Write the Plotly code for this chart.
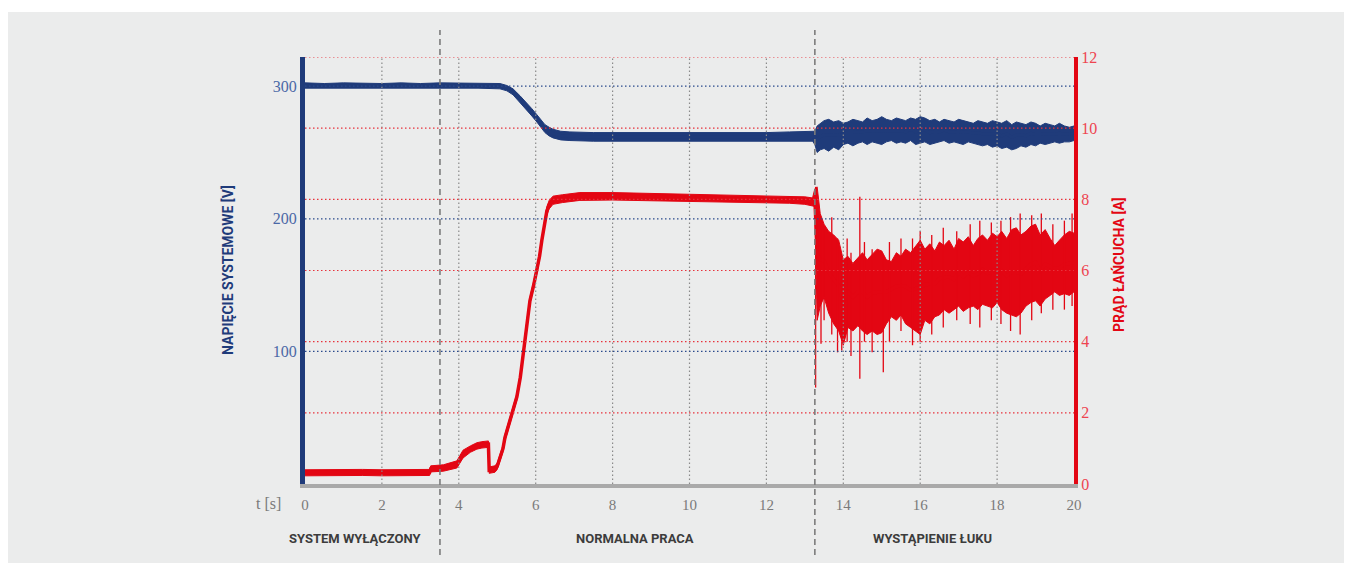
import plotly.graph_objects as go

# ---------------- data ----------------
time_ticks = [0, 2, 4, 6, 8, 10, 12, 14, 16, 18, 20]
voltage_ticks = [100, 200, 300]
current_ticks = [0, 2, 4, 6, 8, 10, 12]
phase_boundaries = [3.51, 13.26]
phase_labels = ["SYSTEM WYŁĄCZONY", "NORMALNA PRACA", "WYSTĄPIENIE ŁUKU"]
phase_label_t = [1.30, 8.58, 16.33]

# system voltage [V] before the arc: time, lower / upper edge of the noisy trace
volt_t = [0, 0.5, 1, 1.5, 2, 2.5, 3, 3.5, 4, 4.5, 5.07, 5.25, 5.41, 5.6, 5.77, 5.9,
          6.03, 6.15, 6.24, 6.35, 6.45, 6.65, 6.89, 7.5, 8.19, 9, 10, 11, 12, 12.6, 13.2]
volt_lo = [298.5, 298.5, 298.5, 299, 298.5, 298.5, 299, 299, 298.5, 298.5, 298, 296.5, 293.5,
           287.5, 281.5, 277.5, 273, 268.5, 265, 262.5, 261, 259.5, 259, 258.5, 258.5, 258,
           258.5, 258, 258.5, 258.5, 258.5]
volt_hi = [302.5, 302, 302.5, 302, 302, 302.5, 302, 302.5, 302.5, 302, 302, 300.5, 298,
           292.5, 287.5, 283, 278.5, 274.5, 271, 269, 267.5, 266, 265.5, 265, 265, 264.5,
           265, 264.5, 265, 265.5, 265.5]

# arc period sampling times [s]
arc_t = [13.26, 13.32, 13.40, 13.50, 13.62, 13.75, 13.88,
         14.00, 14.12, 14.25, 14.38, 14.50, 14.62, 14.75, 14.88,
         15.00, 15.12, 15.25, 15.38, 15.50, 15.62, 15.75, 15.88,
         16.00, 16.12, 16.25, 16.38, 16.50, 16.62, 16.75, 16.88,
         17.00, 17.12, 17.25, 17.38, 17.50, 17.62, 17.75, 17.88,
         18.00, 18.12, 18.25, 18.38, 18.50, 18.62, 18.75, 18.88,
         19.00, 19.12, 19.25, 19.38, 19.50, 19.62, 19.75, 19.88,
         20.00]
volt_arc_hi = [266, 270, 272, 274, 275, 273, 274,
               272, 273, 275, 274, 273, 276, 274, 275,
               277, 275, 274, 276, 275, 274, 276, 275,
               277, 276, 274, 275, 273, 275, 274, 273,
               275, 274, 273, 272, 274, 273, 272, 274,
               273, 272, 274, 271, 273, 272, 271, 273,
               272, 270, 272, 271, 270, 272, 270, 269,
               270]
volt_arc_lo = [256, 250, 252, 253, 251, 254, 252,
               256, 257, 255, 257, 258, 256, 258, 257,
               256, 258, 259, 257, 258, 257, 259, 256,
               257, 258, 256, 257, 258, 259, 257, 258,
               257, 256, 258, 257, 256, 255, 256, 254,
               255, 253, 254, 252, 253, 255, 254, 256,
               255, 257, 256, 257, 258, 257, 258, 258,
               259]

# string current [A] before the arc
cur_t = [0, 0.5, 1, 1.5, 2, 2.5, 3, 3.24,
         3.27, 3.6, 3.95, 4.11, 4.3, 4.47, 4.6, 4.73, 4.77,
         4.79, 4.94, 5.0, 5.07, 5.15, 5.2, 5.28, 5.33, 5.4, 5.46, 5.51, 5.6,
         5.68, 5.77, 5.85, 5.95, 6.03, 6.1, 6.16, 6.22, 6.29, 6.35, 6.45,
         6.7, 7.15, 8, 9, 10, 11, 12, 12.6, 13, 13.2]
cur_lo = [0.23, 0.24, 0.23, 0.24, 0.23, 0.24, 0.23, 0.24,
          0.34, 0.36, 0.45, 0.73, 0.89, 0.98, 1.01, 1.03, 1.03,
          0.3, 0.33, 0.41, 0.65, 0.91, 1.21, 1.51, 1.68, 1.91, 2.21, 2.36, 2.91,
          3.66, 4.41, 5.06, 5.51, 5.91, 6.31, 6.76, 7.21, 7.56, 7.73, 7.86,
          7.91, 7.97, 7.98, 7.96, 7.94, 7.92, 7.9, 7.89, 7.86, 7.81]
cur_hi = [0.4, 0.41, 0.4, 0.41, 0.4, 0.41, 0.4, 0.41,
          0.51, 0.54, 0.65, 0.95, 1.07, 1.16, 1.19, 1.21, 1.21,
          0.48, 0.51, 0.59, 0.85, 1.09, 1.39, 1.69, 1.86, 2.09, 2.39, 2.54, 3.09,
          3.84, 4.59, 5.24, 5.69, 6.09, 6.49, 6.94, 7.39, 7.79, 7.97, 8.09,
          8.13, 8.19, 8.19, 8.17, 8.15, 8.13, 8.11, 8.09, 8.07, 8.04]

# string current [A] during the arc (core of the noisy band)
cur_arc_hi = [8.3, 8.35, 7.6, 7.3, 7.1, 7.0, 6.85,
              6.3, 6.4, 6.2, 6.35, 6.5, 6.3, 6.45, 6.6,
              6.55, 6.3, 6.25, 6.5, 6.4, 6.6, 6.5, 6.7,
              6.85, 6.6, 6.75, 6.55, 6.8, 6.7, 6.85, 6.6,
              6.9, 6.8, 6.95, 6.7, 6.9, 7.0, 6.85, 7.05,
              6.95, 7.1, 6.9, 7.15, 7.2, 7.0, 7.1, 7.25,
              7.3, 7.0, 7.15, 6.9, 6.7, 6.85, 7.0, 7.1,
              7.05]
cur_arc_lo = [7.8, 4.6, 5.0, 5.25, 4.8, 4.5, 4.3,
              3.9, 4.4, 4.3, 4.45, 4.3, 4.2, 4.3, 4.2,
              4.25, 4.5, 4.7, 4.6, 4.75, 4.5, 4.4, 4.3,
              4.2, 4.6, 4.5, 4.7, 4.75, 4.9, 4.8, 4.9,
              5.0, 4.85, 4.95, 5.0, 4.9, 5.05, 5.0, 4.95,
              5.1, 4.9, 4.8, 4.75, 4.7, 4.8, 5.0, 5.1,
              5.15, 5.0, 5.2, 5.3, 5.4, 5.3, 5.35, 5.3,
              5.4]

# isolated current spikes during the arc (time, low end, high end) [A]
spike_t = [13.28, 13.42, 13.5, 13.7, 13.85, 13.96, 14.1, 14.2, 14.43, 14.55, 14.75,
           15.04, 15.2, 15.5, 15.8, 16.0, 16.3, 16.6, 16.95, 17.3, 17.55, 17.85,
           18.1, 18.35, 18.6, 18.9, 19.15, 19.45, 19.75, 19.95]
spike_lo = [2.71, 3.94, 4.6, 4.2, 3.7, 3.75, 4.0, 3.6, 2.96, 4.0, 3.7,
            3.14, 4.0, 4.3, 3.9, 4.0, 4.2, 4.4, 4.6, 4.5, 4.4, 4.6,
            4.5, 4.3, 4.2, 4.6, 4.8, 4.9, 4.9, 5.0]
spike_hi = [8.35, 7.4, 7.2, 7.5, 6.9, 6.3, 6.9, 6.5, 8.07, 6.8, 6.6,
            6.3, 6.8, 6.9, 6.9, 7.1, 7.0, 7.2, 7.1, 7.3, 7.4, 7.35,
            7.4, 7.5, 7.6, 7.55, 7.6, 7.3, 7.4, 7.6]

# ---------------- style ----------------
BLUE = "#1f3b7a"
RED = "#e30613"
BLUE_TXT = "#4a68a6"
RED_TXT = "#ee4450"
GREY_TXT = "#7a7a7a"
BG = "#ebecec"
SERIF = "Liberation Serif, DejaVu Serif, serif"
SANS = "Roboto, Open Sans, sans-serif"

# window pixel positions of the plot area (page has an 8px body margin)
OFF = 8
W, H = 1352 - OFF, 563 - OFF
L, R, T, B = 305, 1074, 57, 484


def px_x(p):
    return (p - L) / (R - L)


def px_y(p):
    return (B - p) / (B - T)


fig = go.Figure()


def band(t, lo, hi, color, yaxis, mid_width):
    mid = [(a + b) / 2 for a, b in zip(lo, hi)]
    fig.add_trace(go.Scatter(x=t, y=lo, mode="lines", yaxis=yaxis,
                             line=dict(color=color, width=1.0), showlegend=False,
                             hoverinfo="skip"))
    fig.add_trace(go.Scatter(x=t, y=hi, mode="lines", yaxis=yaxis, fill="tonexty",
                             fillcolor=color, line=dict(color=color, width=1.0),
                             showlegend=False, hoverinfo="skip"))
    fig.add_trace(go.Scatter(x=t, y=mid, mode="lines", yaxis=yaxis,
                             line=dict(color=color, width=mid_width), showlegend=False,
                             hoverinfo="skip"))


band(volt_t + arc_t, volt_lo + volt_arc_lo, volt_hi + volt_arc_hi, BLUE, "y", 3)
band(cur_t + arc_t, cur_lo + cur_arc_lo, cur_hi + cur_arc_hi, RED, "y2", 3.5)

sx, sy = [], []
for t, lo, hi in zip(spike_t, spike_lo, spike_hi):
    sx += [t, t, None]
    sy += [lo, hi, None]
fig.add_trace(go.Scatter(x=sx, y=sy, mode="lines", yaxis="y2",
                         line=dict(color=RED, width=1.3), showlegend=False,
                         hoverinfo="skip"))

shapes = []
# page background
shapes.append(dict(type="rect", xref="paper", yref="paper", layer="below",
                   x0=px_x(0), x1=px_x(1347), y0=px_y(570), y1=px_y(12),
                   fillcolor=BG, line=dict(width=0)))
# vertical grid
for t in time_ticks[1:-1]:
    shapes.append(dict(type="line", xref="x", yref="paper", layer="above",
                       x0=t, x1=t, y0=0, y1=1,
                       line=dict(color="#8a8a8a", width=1.2, dash="1.5px,2.5px")))
# current grid (red)
for v in current_ticks[1:]:
    shapes.append(dict(type="line", xref="paper", yref="y2", layer="above",
                       x0=0, x1=1, y0=v, y1=v,
                       line=dict(color="#e8323c", width=1.2, dash="1.5px,2.5px")))
# voltage grid (blue)
for v in voltage_ticks:
    shapes.append(dict(type="line", xref="paper", yref="y", layer="above",
                       x0=0, x1=1, y0=v, y1=v,
                       line=dict(color="#2b4a8c", width=1.2, dash="1.5px,2.5px")))
# phase separators
for t in phase_boundaries:
    shapes.append(dict(type="line", xref="x", yref="paper", layer="above",
                       x0=t, x1=t, y0=px_y(555), y1=px_y(30),
                       line=dict(color="#7c7c7c", width=1.6, dash="6px,4px")))

annotations = []
for lab, t in zip(phase_labels, phase_label_t):
    annotations.append(dict(text=lab, x=t, xref="x", y=px_y(538), yref="paper",
                            showarrow=False, xanchor="center", yanchor="middle",
                            font=dict(family=SANS, size=13, color="#3c3c3c",
                                      weight="bold")))
annotations.append(dict(text="t [s]", x=px_x(283), xref="paper", y=px_y(503),
                        yref="paper", showarrow=False, xanchor="right",
                        yanchor="middle",
                        font=dict(family=SERIF, size=16, color=GREY_TXT)))
annotations.append(dict(text="NAPIĘCIE SYSTEMOWE [V]", x=px_x(228), xref="paper",
                        y=px_y(270), yref="paper", showarrow=False, textangle=-90,
                        xanchor="center", yanchor="middle",
                        font=dict(family=SANS, size=14, color=BLUE, weight="bold")))
annotations.append(dict(text="PRĄD ŁAŃCUCHA [A]", x=px_x(1118), xref="paper",
                        y=px_y(265), yref="paper", showarrow=False, textangle=-90,
                        xanchor="center", yanchor="middle",
                        font=dict(family=SANS, size=14, color=RED, weight="bold")))

fig.update_layout(
    width=W, height=H, autosize=False,
    margin=dict(l=L - OFF, r=W - (R - OFF), t=T - OFF, b=H - (B - OFF), pad=0),
    paper_bgcolor="white", plot_bgcolor="rgba(0,0,0,0)",
    showlegend=False,
    shapes=shapes, annotations=annotations,
    xaxis=dict(range=[0, 20], tickvals=time_ticks, showgrid=False, zeroline=False,
               showline=True, linecolor="#a9a9a9", linewidth=4, ticks="", ticklen=0,
               ticklabelstandoff=4, layer="above traces",
               tickfont=dict(family=SERIF, size=15, color=GREY_TXT)),
    yaxis=dict(range=[0, 322], tickvals=voltage_ticks, showgrid=False, zeroline=False,
               showline=True, linecolor=BLUE, linewidth=5, ticks="", ticklen=0,
               ticklabelstandoff=0, layer="above traces",
               tickfont=dict(family=SERIF, size=16, color=BLUE_TXT)),
    yaxis2=dict(range=[0, 12], tickvals=current_ticks, overlaying="y", side="right",
                showgrid=False, zeroline=False, showline=True, linecolor=RED,
                linewidth=4, ticks="", ticklen=0, ticklabelstandoff=0,
                layer="above traces",
                tickfont=dict(family=SERIF, size=16, color=RED_TXT)),
)

fig.write_html("out.html")
